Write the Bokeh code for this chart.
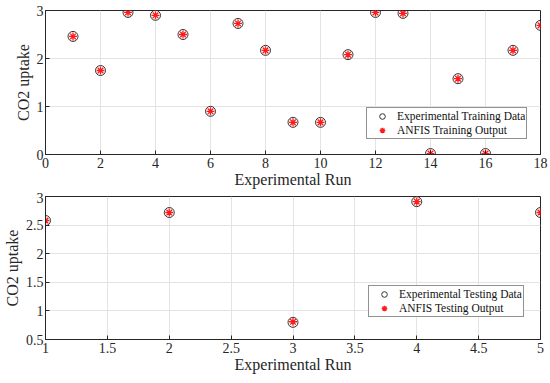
from bokeh.plotting import figure
from bokeh.layouts import column
from bokeh.models import ColumnDataSource, Range1d, FixedTicker, Legend, LegendItem
from bokeh.embed import file_html
from bokeh.resources import INLINE

# Training data
train_run = list(range(1, 19))
train_exp = [2.46, 1.75, 2.96, 2.90, 2.50, 0.90, 2.73, 2.17, 0.67, 0.67,
             2.08, 2.96, 2.94, 0.02, 1.58, 0.02, 2.17, 2.69]
train_anfis = [2.46, 1.75, 2.96, 2.90, 2.50, 0.90, 2.73, 2.17, 0.67, 0.67,
               2.08, 2.96, 2.94, 0.02, 1.58, 0.02, 2.17, 2.69]

# Testing data
test_run = [1, 2, 3, 4, 5]
test_exp = [2.58, 2.72, 0.80, 2.91, 2.72]
test_anfis = [2.58, 2.72, 0.81, 2.91, 2.72]

FONT = "Liberation Serif"


def style(p, xticks, yticks):
    p.xaxis.ticker = FixedTicker(ticks=xticks)
    p.yaxis.ticker = FixedTicker(ticks=yticks)
    for ax in (p.xaxis[0], p.yaxis[0]):
        ax.major_label_text_font = FONT
        ax.major_label_text_font_size = "14px"
        ax.major_label_text_color = "#262626"
        ax.axis_label_text_font = FONT
        ax.axis_label_text_font_size = "16px"
        ax.axis_label_text_font_style = "normal"
        ax.axis_label_text_color = "#262626"
        ax.axis_line_color = "#262626"
        ax.major_tick_line_color = "#262626"
        ax.major_tick_in = 4
        ax.major_tick_out = 0
        ax.minor_tick_line_color = None
    p.xaxis.axis_label_standoff = 0
    p.yaxis.axis_label_standoff = 2
    p.xaxis.major_label_standoff = 3
    p.yaxis.major_label_standoff = 2
    p.grid.grid_line_color = "#e3e3e3"
    p.outline_line_color = "#262626"
    p.outline_line_alpha = 1.0
    p.background_fill_color = "white"
    p.border_fill_color = "white"


def make(run, exp, anfis, xr, yr, xticks, yticks, labels, h, top, bottom, loc):
    p = figure(width=550, height=h, output_backend="svg", toolbar_location=None,
               x_range=Range1d(*xr), y_range=Range1d(*yr),
               min_border_left=30, min_border_right=10, min_border_top=top,
               min_border_bottom=bottom)
    style(p, xticks, yticks)
    p.xaxis.axis_label = "Experimental Run"
    p.yaxis.axis_label = "CO2 uptake"
    src = ColumnDataSource(dict(x=run, e=exp, a=anfis))
    c = p.scatter("x", "e", source=src, marker="circle", size=10,
                  fill_color=None, line_color="#333333", line_width=1)
    s = p.scatter("x", "a", source=src, marker="asterisk", size=8,
                  line_color="#ff1a1a", line_width=1.3)
    leg = Legend(items=[LegendItem(label=labels[0], renderers=[c]),
                        LegendItem(label=labels[1], renderers=[s])],
                 location=loc)
    leg.label_text_font = FONT
    leg.label_text_font_size = "11.5px"
    leg.label_text_color = "#111111"
    leg.label_height = 14
    leg.glyph_height = 14
    leg.glyph_width = 28
    leg.label_standoff = 1
    leg.spacing = 0
    leg.padding = 1
    leg.margin = 0
    leg.border_line_color = "#262626"
    leg.background_fill_alpha = 1.0
    p.add_layout(leg)
    return p


p1 = make(train_run, train_exp, train_anfis, (0, 18), (0, 3),
          list(range(0, 19, 2)), [0, 1, 2, 3],
          ["Experimental Training Data", "ANFIS Training Output"], 192, 10, 38,
          (321, 15))
p2 = make(test_run, test_exp, test_anfis, (1, 5), (0.5, 3),
          [1, 1.5, 2, 2.5, 3, 3.5, 4, 4.5, 5], [0.5, 1, 1.5, 2, 2.5, 3],
          ["Experimental Testing Data", "ANFIS Testing Output"], 191, 4, 44,
          (323, 22))

layout = column(p1, p2, spacing=0)
open("out.html", "w").write(file_html(layout, INLINE))
